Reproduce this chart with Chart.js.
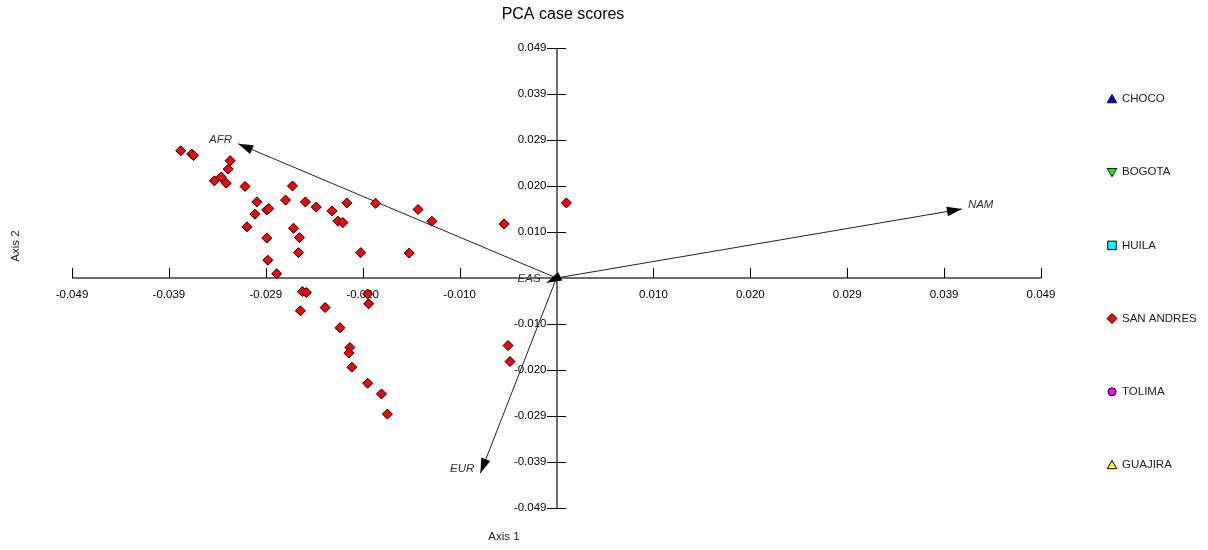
<!DOCTYPE html>
<html><head><meta charset="utf-8">
<script src="https://cdn.jsdelivr.net/npm/chart.js@4/dist/chart.umd.min.js"></script>
<style>html,body{margin:0;padding:0;background:#fff;} #wrap{width:1208px;height:550px;}</style>
</head><body><div id="wrap"><canvas id="c" width="1208" height="550"></canvas></div>
<script>
const chartTitle = 'PCA case scores';
const xAxisTitle = 'Axis 1';
const yAxisTitle = 'Axis 2';

const groupNames = ['CHOCO', 'BOGOTA', 'HUILA', 'SAN ANDRES', 'TOLIMA', 'GUAJIRA'];
const groupColors = ['#0000ff', '#00ff00', '#00ffff', '#ff0000', '#ff00ff', '#ffff00'];
const groupShapes = ['triangle', 'triangle', 'rect', 'rectRot', 'circle', 'triangle'];
const groupRotations = [0, 180, 0, 0, 0, 0];

const sanAndresX = [-0.0380, -0.0369, -0.0367, -0.0330, -0.0332, -0.0346, -0.0339, -0.0334, -0.0315, -0.0267,
  -0.0303, -0.0274, -0.0254, -0.0243, -0.0227, -0.0212, -0.0305, -0.0293, -0.0291, -0.0221,
  -0.0216, -0.0313, -0.0266, -0.0260, -0.0293, -0.0261, -0.0292, -0.0283, -0.0183, -0.0140,
  -0.0126, -0.0198, -0.0149, -0.0257, -0.0253, -0.0191, -0.0190, -0.0259, -0.0234, -0.0219,
  -0.0209, -0.0210, -0.0207, -0.0191, -0.0177, -0.0171, 0.0010, -0.0053, -0.0049, -0.0047];
const sanAndresY = [0.0271, 0.0264, 0.0261, 0.0250, 0.0232, 0.0207, 0.0215, 0.0202, 0.0195, 0.0196,
  0.0162, 0.0166, 0.0162, 0.0151, 0.0143, 0.0160, 0.0136, 0.0145, 0.0148, 0.0121,
  0.0118, 0.0109, 0.0106, 0.0086, 0.0085, 0.0054, 0.0038, 0.0009, 0.0159, 0.0146,
  0.0121, 0.0054, 0.0053, -0.0029, -0.0031, -0.0034, -0.0055, -0.0070, -0.0063, -0.0106,
  -0.0148, -0.0160, -0.0190, -0.0224, -0.0247, -0.0290, 0.0160, 0.0115, -0.0144, -0.0178];

const vectorNames = ['AFR', 'NAM', 'EUR', 'EAS'];
const vectorX = [-0.0322, 0.0410, -0.0077, -0.0010];
const vectorY = [0.0286, 0.0147, -0.0416, -0.0010];

const xTickValues = [-0.049, -0.0392, -0.0294, -0.0196, -0.0098, 0.0098, 0.0196, 0.0294, 0.0392, 0.049];
const xTickLabels = ['-0.049', '-0.039', '-0.029', '-0.020', '-0.010', '0.010', '0.020', '0.029', '0.039', '0.049'];
const yTickValues = [-0.049, -0.0392, -0.0294, -0.0196, -0.0098, 0.0098, 0.0196, 0.0294, 0.0392, 0.049];
const yTickLabels = ['-0.049', '-0.039', '-0.029', '-0.020', '-0.010', '0.010', '0.020', '0.029', '0.039', '0.049'];

const FONT = "'Liberation Sans', Arial, sans-serif";
Chart.defaults.font.family = FONT;

const groupData = groupNames.map((n, i) => n === 'SAN ANDRES'
  ? sanAndresX.map((x, k) => ({x: x, y: sanAndresY[k]})) : []);

const datasets = groupNames.map((n, i) => ({
  type: 'scatter',
  label: n,
  data: groupData[i],
  pointStyle: groupShapes[i],
  rotation: groupRotations[i],
  pointRadius: 5,
  pointHoverRadius: 5,
  backgroundColor: groupColors[i],
  borderColor: '#000',
  borderWidth: 1,
  order: 1
}));
vectorNames.forEach((n, i) => {
  datasets.push({
    type: 'line',
    label: n,
    isVector: true,
    data: [{x: 0, y: 0}, {x: vectorX[i], y: vectorY[i]}],
    borderColor: '#222',
    borderWidth: 1,
    pointRadius: 0,
    fill: false,
    order: 5
  });
});

const overlay = {
  id: 'overlay',
  beforeDatasetsDraw(chart) {
    const ctx = chart.ctx, xs = chart.scales.x, ys = chart.scales.y, a = chart.chartArea;
    const x0 = Math.round(xs.getPixelForValue(0)), y0 = Math.round(ys.getPixelForValue(0));
    ctx.save();
    ctx.strokeStyle = '#6e6e6e';
    ctx.lineWidth = 2;
    ctx.beginPath();
    ctx.moveTo(a.left, y0); ctx.lineTo(a.right, y0);
    ctx.moveTo(x0, a.top); ctx.lineTo(x0, a.bottom);
    ctx.stroke();
    ctx.strokeStyle = '#000';
    ctx.lineWidth = 1;
    ctx.beginPath();
    xs.ticks.forEach(t => {
      const px = Math.round(xs.getPixelForValue(t.value)) + 0.5;
      ctx.moveTo(px, y0 - 10); ctx.lineTo(px, y0);
    });
    ys.ticks.forEach(t => {
      const py = Math.round(ys.getPixelForValue(t.value)) + 0.5;
      ctx.moveTo(x0 - 10, py); ctx.lineTo(x0 + 9, py);
    });
    ctx.stroke();
    ctx.restore();
  },
  afterDatasetsDraw(chart) {
    const ctx = chart.ctx, xs = chart.scales.x, ys = chart.scales.y;
    const ox = xs.getPixelForValue(0), oy = ys.getPixelForValue(0);
    ctx.save();
    vectorNames.forEach((n, i) => {
      const px = xs.getPixelForValue(vectorX[i]), py = ys.getPixelForValue(vectorY[i]);
      const dx = px - ox, dy = py - oy, len = Math.hypot(dx, dy);
      const ux = dx / len, uy = dy / len, L = 15, W = 4.8;
      const bx = px - ux * L, by = py - uy * L;
      ctx.fillStyle = '#000';
      ctx.beginPath();
      ctx.moveTo(px, py);
      ctx.lineTo(bx - uy * W, by + ux * W);
      ctx.lineTo(bx + uy * W, by - ux * W);
      ctx.closePath();
      ctx.fill();
      ctx.font = 'italic 11.5px ' + FONT;
      ctx.fillStyle = '#333';
      ctx.textBaseline = 'middle';
      if (vectorX[i] < 0) { ctx.textAlign = 'right'; ctx.fillText(n, px - 6, py - 4); }
      else { ctx.textAlign = 'left'; ctx.fillText(n, px + 6, py - 4); }
    });
    ctx.fillStyle = '#000';
    ctx.textAlign = 'center';
    ctx.textBaseline = 'middle';
    ctx.font = '16px ' + FONT;
    ctx.fillText(chartTitle, 563, 15);
    ctx.font = '11.5px ' + FONT;
    ctx.fillStyle = '#222';
    ctx.fillText(xAxisTitle, 504, 537);
    ctx.save();
    ctx.translate(16, 246);
    ctx.rotate(-Math.PI / 2);
    ctx.fillText(yAxisTitle, 0, 0);
    ctx.restore();
    chart.data.datasets.forEach((ds, i) => {
      if (ds.isVector) return;
      const y = 99 + i * 73.2, x = 1112;
      ctx.fillStyle = ds.backgroundColor;
      ctx.strokeStyle = '#000';
      ctx.lineWidth = 1;
      let r = 5.5;
      if (ds.pointStyle === 'rect') r = 6;
      if (ds.pointStyle === 'circle') r = 4;
      if (ds.pointStyle === 'rectRot') r = 5;
      Chart.helpers.drawPoint(ctx, {pointStyle: ds.pointStyle, rotation: ds.rotation, radius: r, borderWidth: 1}, x, y + (ds.pointStyle === 'triangle' ? (ds.rotation ? -1 : 1) : 0));
      ctx.fillStyle = '#222';
      ctx.textAlign = 'left';
      ctx.textBaseline = 'middle';
      ctx.font = '11.5px ' + FONT;
      ctx.fillText(ds.label, 1122, y);
    });
    ctx.restore();
  }
};

new Chart(document.getElementById('c'), {
  type: 'scatter',
  data: {datasets: datasets},
  options: {
    responsive: false,
    animation: false,
    devicePixelRatio: 1,
    layout: {padding: {left: 72, right: 167, top: 48, bottom: 42}},
    plugins: {legend: {display: false}, title: {display: false}, tooltip: {enabled: false}},
    scales: {
      x: {
        type: 'linear', position: 'center', min: -0.049, max: 0.049,
        grid: {display: false, drawTicks: false},
        border: {display: false},
        afterBuildTicks: s => { s.ticks = xTickValues.map(v => ({value: v})); },
        ticks: {padding: 10, autoSkip: false, maxRotation: 0, color: '#000', font: {size: 11.5},
          callback: (v, i) => xTickLabels[i]}
      },
      y: {
        type: 'linear', position: 'center', min: -0.049, max: 0.049,
        grid: {display: false, drawTicks: false},
        border: {display: false},
        afterBuildTicks: s => { s.ticks = yTickValues.map(v => ({value: v})); },
        ticks: {padding: 10, autoSkip: false, color: '#000', font: {size: 11.5},
          callback: (v, i) => yTickLabels[i]}
      }
    }
  },
  plugins: [overlay]
});
</script>
</body></html>
